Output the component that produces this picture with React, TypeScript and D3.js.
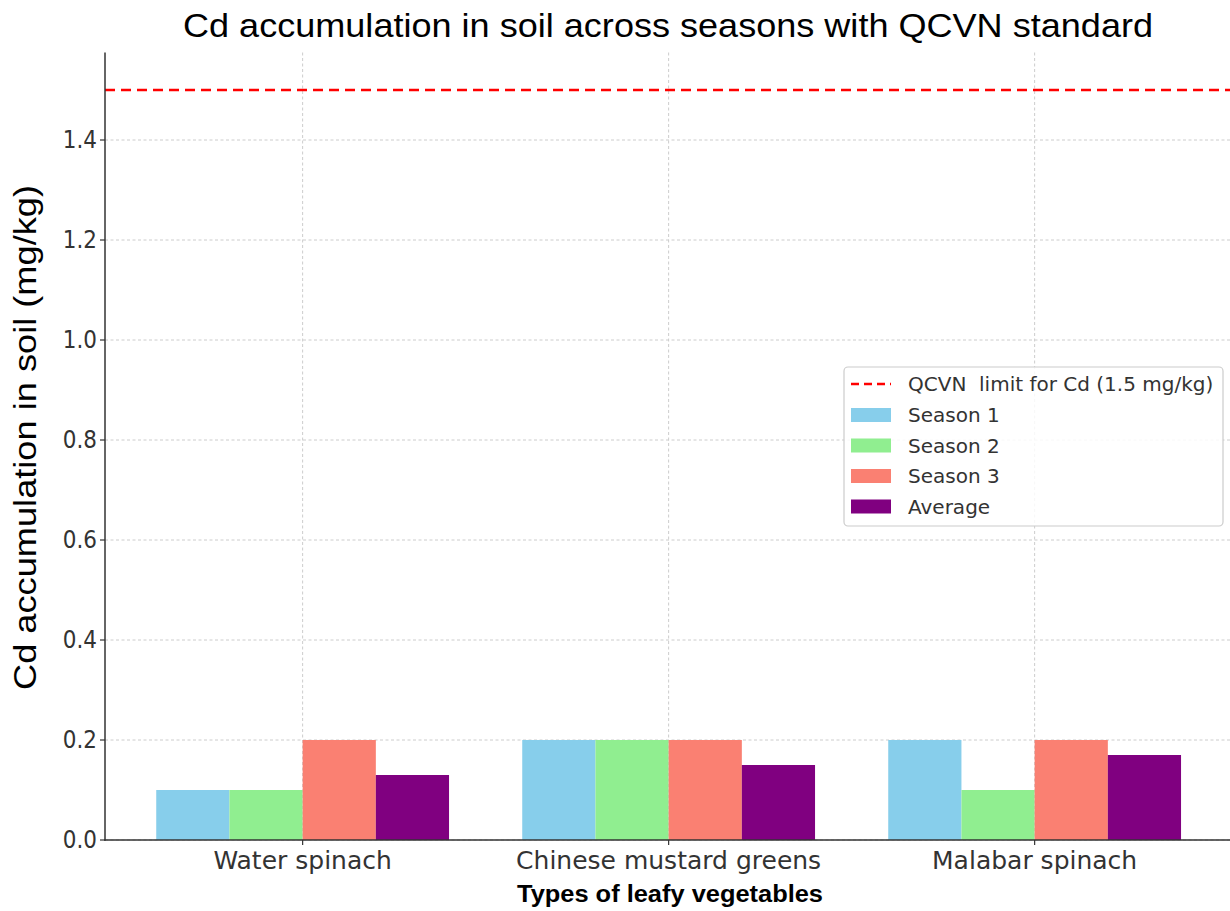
import React from "react";
import * as d3 from "d3";

const categories = ["Water spinach", "Chinese mustard greens", "Malabar spinach"];
const seriesNames = ["Season 1", "Season 2", "Season 3", "Average"];
const season1 = [0.1, 0.2, 0.2];
const season2 = [0.1, 0.2, 0.1];
const season3 = [0.2, 0.2, 0.2];
const average = [0.13, 0.15, 0.17];
const seriesColors = ["#87CEEB", "#90EE90", "#FA8072", "#800080"];
const yTicks = [0.0, 0.2, 0.4, 0.6, 0.8, 1.0, 1.2, 1.4];
const limitValue = 1.5;
const limitLabel = "QCVN  limit for Cd (1.5 mg/kg)";

const W = 1230;
const H = 911;
const left = 105;
const bottom = 840;

export default function App() {
  const series = [season1, season2, season3, average];
  const x = d3.scaleLinear().domain([-0.54, 2.54]).range([left, left + 3.08 * 366]);
  const y = d3.scaleLinear().domain([0, 1.575]).range([bottom, bottom - 1.575 * 500]);
  const barW = 0.2;
  const axisColor = "#333";
  const tickFont = "DejaVu Sans, sans-serif";
  const sans = "Liberation Sans, Arial, sans-serif";

  return (
    <div style={{ position: "absolute", left: 0, top: 0 }}>
      <svg width={W} height={H} style={{ display: "block", background: "#fff" }}>
        {/* grid */}
        {yTicks.map((t) => (
          <line key={"gy" + t} x1={left} x2={W} y1={y(t)} y2={y(t)} stroke="#cccccc" strokeWidth={1} strokeDasharray="3,2.5" />
        ))}
        {categories.map((c, i) => (
          <line key={"gx" + c} x1={x(i)} x2={x(i)} y1={y(1.575)} y2={bottom} stroke="#cccccc" strokeWidth={1} strokeDasharray="3,2.5" />
        ))}
        {/* bars */}
        {series.map((vals, s) =>
          vals.map((v, i) => {
            const x0 = x(i + (s - 2) * barW);
            const x1 = x(i + (s - 1) * barW);
            return (
              <rect key={`b${s}-${i}`} x={x0} y={y(v)} width={x1 - x0} height={bottom - y(v)} fill={seriesColors[s]} />
            );
          })
        )}
        {/* limit line */}
        <line x1={left} x2={W} y1={y(limitValue)} y2={y(limitValue)} stroke="#ff0000" strokeWidth={2.5} strokeDasharray="10,6" />
        {/* axes */}
        <line x1={left} x2={left} y1={y(1.575)} y2={bottom + 0.75} stroke={axisColor} strokeWidth={1.5} />
        <line x1={left - 0.75} x2={W} y1={bottom} y2={bottom} stroke={axisColor} strokeWidth={1.5} />
        {yTicks.map((t) => (
          <g key={"yt" + t}>
            <line x1={left - 5} x2={left} y1={y(t)} y2={y(t)} stroke={axisColor} strokeWidth={1.2} />
            <text transform={`translate(${left - 8}, ${y(t) + 8}) scale(1, 1.12)`} textAnchor="end" fontFamily={tickFont} fontSize={21.5} fill={axisColor}>
              {t.toFixed(1)}
            </text>
          </g>
        ))}
        {categories.map((c, i) => (
          <g key={"xt" + c}>
            <line x1={x(i)} x2={x(i)} y1={bottom} y2={bottom + 5} stroke={axisColor} strokeWidth={1.2} />
            <text x={x(i)} y={869} textAnchor="middle" fontFamily={tickFont} fontSize={25} fill={axisColor}>
              {c}
            </text>
          </g>
        ))}
        {/* labels */}
        <text x={668} y={37} textAnchor="middle" fontFamily={sans} fontSize={33.5} textLength={970} lengthAdjust="spacingAndGlyphs" fill="#000">
          Cd accumulation in soil across seasons with QCVN standard
        </text>
        <text transform={`translate(35.5, 437.5) rotate(-90)`} textAnchor="middle" fontFamily={sans} fontSize={31} textLength={505} lengthAdjust="spacingAndGlyphs" fill="#000">
          Cd accumulation in soil (mg/kg)
        </text>
        <text x={670} y={902} textAnchor="middle" fontFamily={sans} fontWeight="bold" fontSize={23} textLength={306} lengthAdjust="spacingAndGlyphs" fill="#000">
          Types of leafy vegetables
        </text>
        {/* legend */}
        <g>
          <rect x={844} y={367} width={379} height={159} rx={4} fill="#fff" fillOpacity={0.85} stroke="#cccccc" strokeWidth={1.2} />
          <line x1={851} x2={891} y1={384} y2={384} stroke="#ff0000" strokeWidth={2.5} strokeDasharray="8,5" />
          <text x={908} y={384} dy="0.36em" fontFamily={tickFont} fontSize={20} fill={axisColor} style={{ whiteSpace: "pre" }}>{limitLabel}</text>
          {seriesNames.map((n, s) => (
            <g key={"lg" + n}>
              <rect x={851} y={415 + s * 30.5 - 7} width={40} height={14} fill={seriesColors[s]} />
              <text x={908} y={415 + s * 30.5} dy="0.36em" fontFamily={tickFont} fontSize={20} fill={axisColor}>{n}</text>
            </g>
          ))}
        </g>
      </svg>
    </div>
  );
}
